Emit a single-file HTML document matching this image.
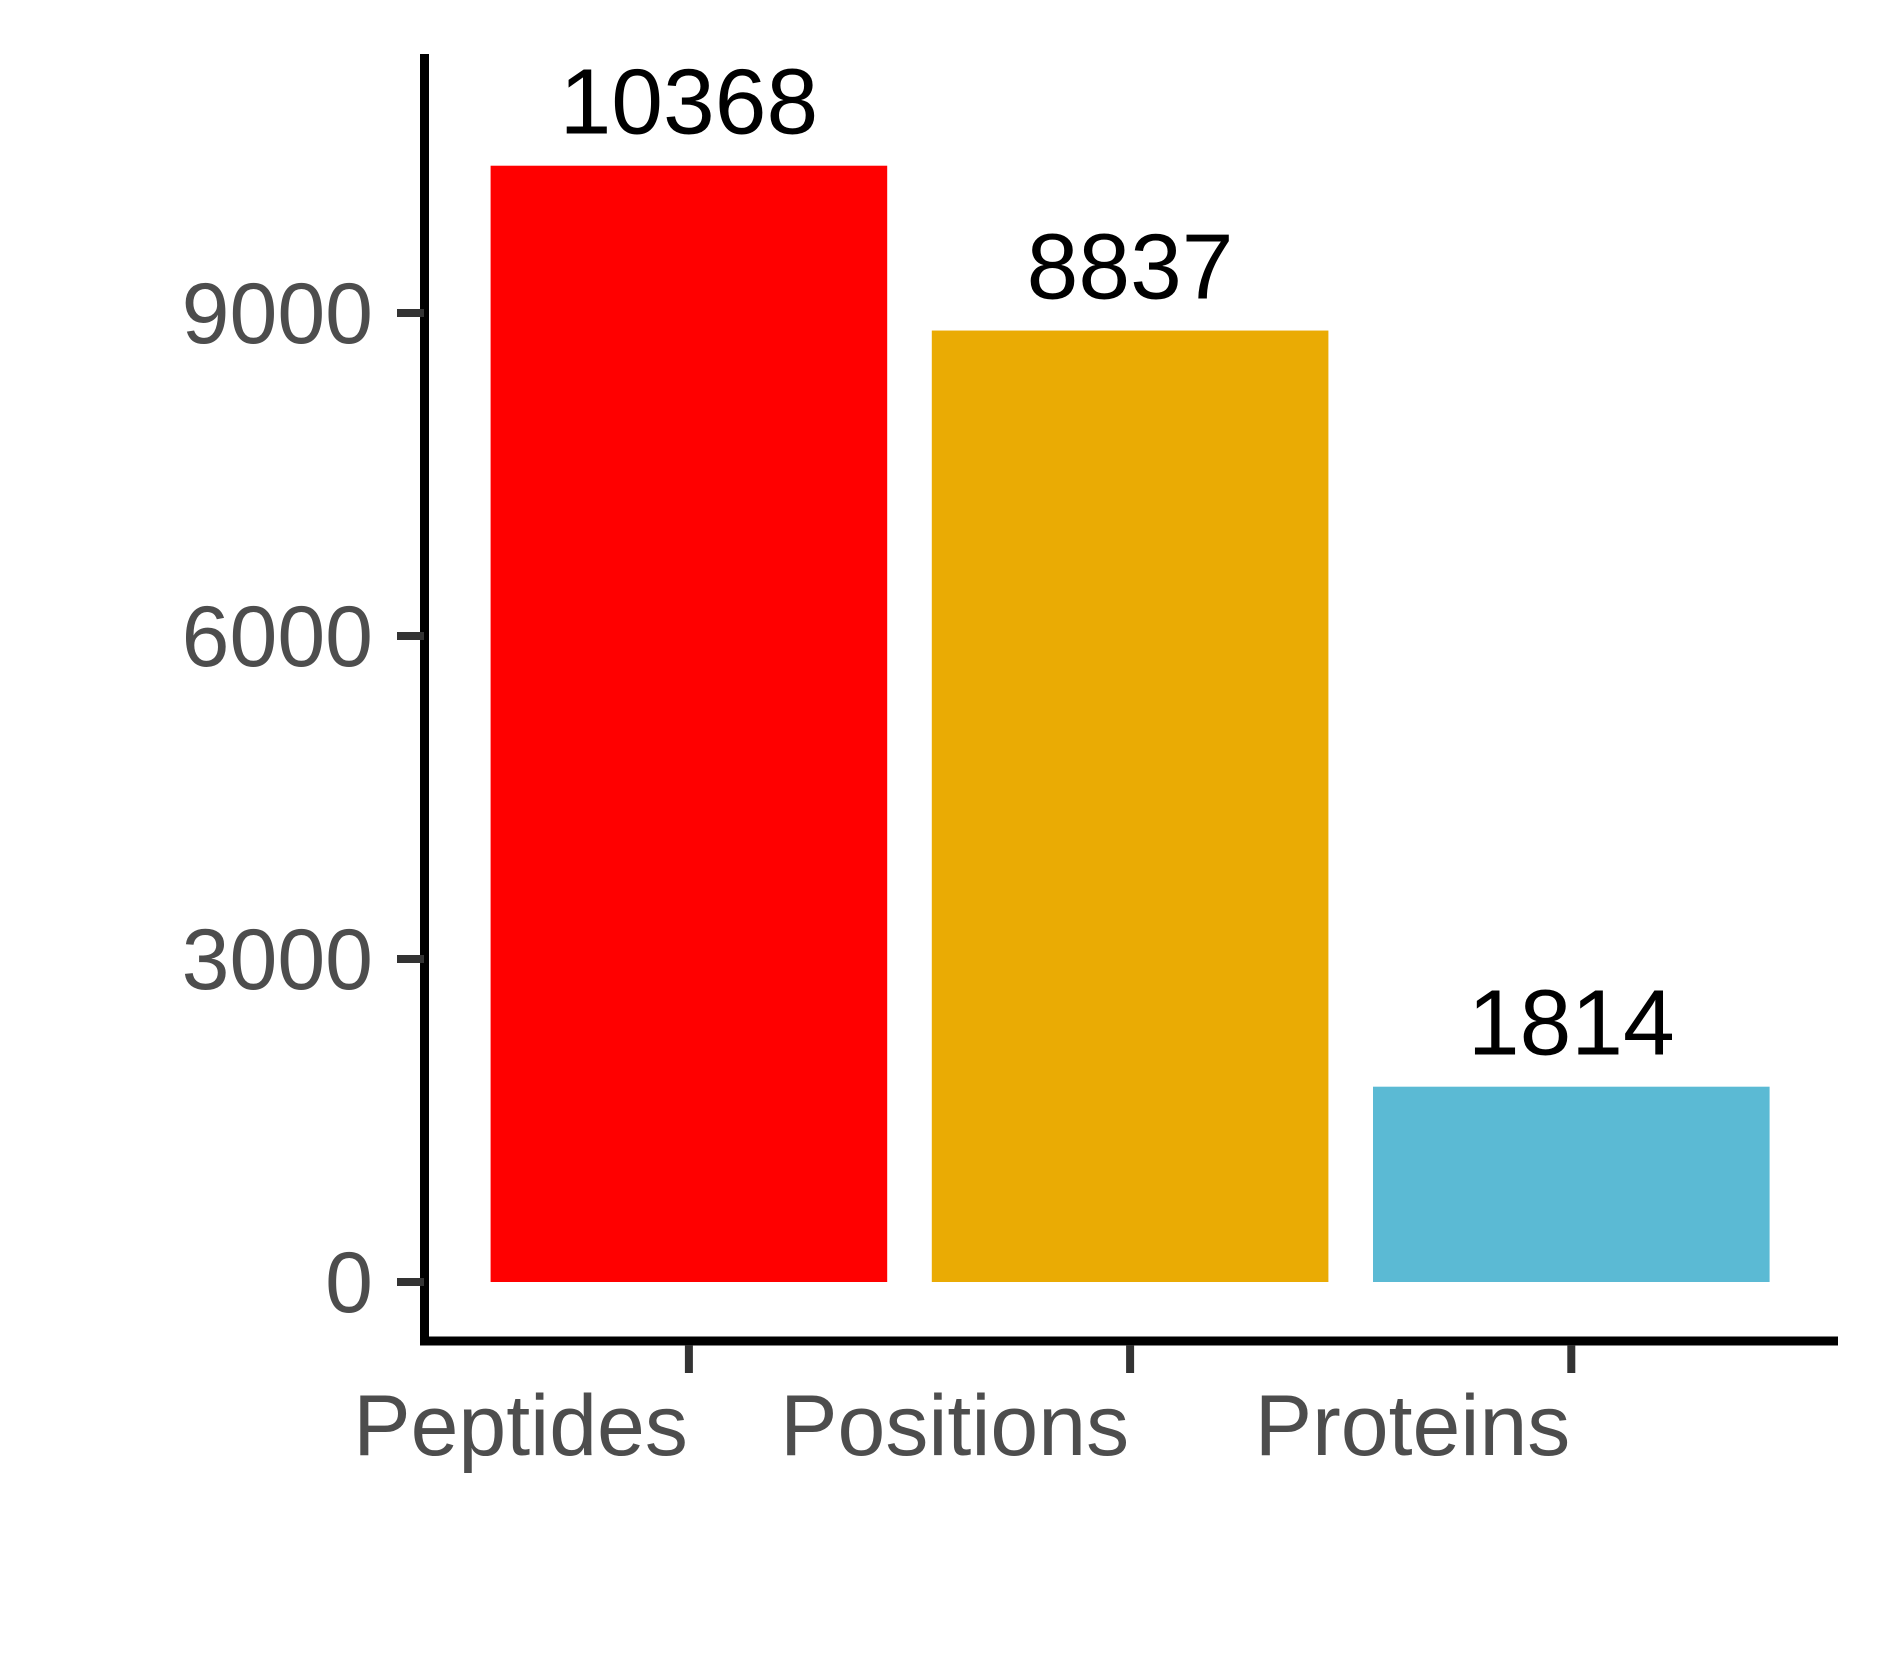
<!DOCTYPE html>
<html><head><meta charset="utf-8"><style>
html,body{margin:0;padding:0;background:#fff;}
svg{display:block;font-family:"Liberation Sans",Arial,sans-serif;}
</style></head><body>
<svg id="chart" width="1889" height="1653" viewBox="0 0 1889 1653" xmlns="http://www.w3.org/2000/svg"></svg>
<script>
const categories = ["Peptides", "Positions", "Proteins"];
const values = [10368, 8837, 1814];
const colors = ["#FF0000", "#EAAB04", "#5BBAD4"];
const yTicks = [0, 3000, 6000, 9000];

const NS = "http://www.w3.org/2000/svg";
const svg = document.getElementById("chart");
const y0 = 1282, pxPer = (1282 - 313) / 9000;
const yScale = v => y0 - v * pxPer;
const bandStart = 490.6, bandStep = 441.2, barW = 396.6;
const xCenter = i => bandStart + barW / 2 + i * bandStep;

function mk(tag, attrs, parent) {
  const e = document.createElementNS(NS, tag);
  for (const k in attrs) e.setAttribute(k, attrs[k]);
  (parent || svg).appendChild(e);
  return e;
}

// bars
values.forEach((v, i) => {
  const r = mk("rect", {x: xCenter(i) - barW / 2, y: yScale(v), width: barW, height: y0 - yScale(v), fill: colors[i]});
  
  
  const t = mk("text", {x: xCenter(i), y: yScale(v) - 32, "text-anchor": "middle", "font-size": 93, fill: "#000"});
  t.textContent = String(v);
  
  
});

// axes
const ya = mk("line", {x1: 424.5, y1: 54, x2: 424.5, y2: 1345, stroke: "#000", "stroke-width": 9});


const xa = mk("line", {x1: 420, y1: 1341, x2: 1838, y2: 1341, stroke: "#000", "stroke-width": 9});



yTicks.forEach(v => {
  const tk = mk("line", {x1: 397, y1: yScale(v), x2: 424, y2: yScale(v), stroke: "#333", "stroke-width": 8});
  
  
  const tl = mk("text", {x: 373, y: yScale(v) + 30, "text-anchor": "end", "font-size": 86, fill: "#4D4D4D"});
  tl.textContent = String(v);
  
  
});

categories.forEach((c, i) => {
  const tk = mk("line", {x1: xCenter(i), y1: 1345, x2: xCenter(i), y2: 1373, stroke: "#333", "stroke-width": 8});
  
  
  const tl = mk("text", {x: xCenter(i) - 1, y: 1455, "text-anchor": "end", "font-size": 86, fill: "#4D4D4D"});
  tl.textContent = c;
  
  
});
</script>
</body></html>
